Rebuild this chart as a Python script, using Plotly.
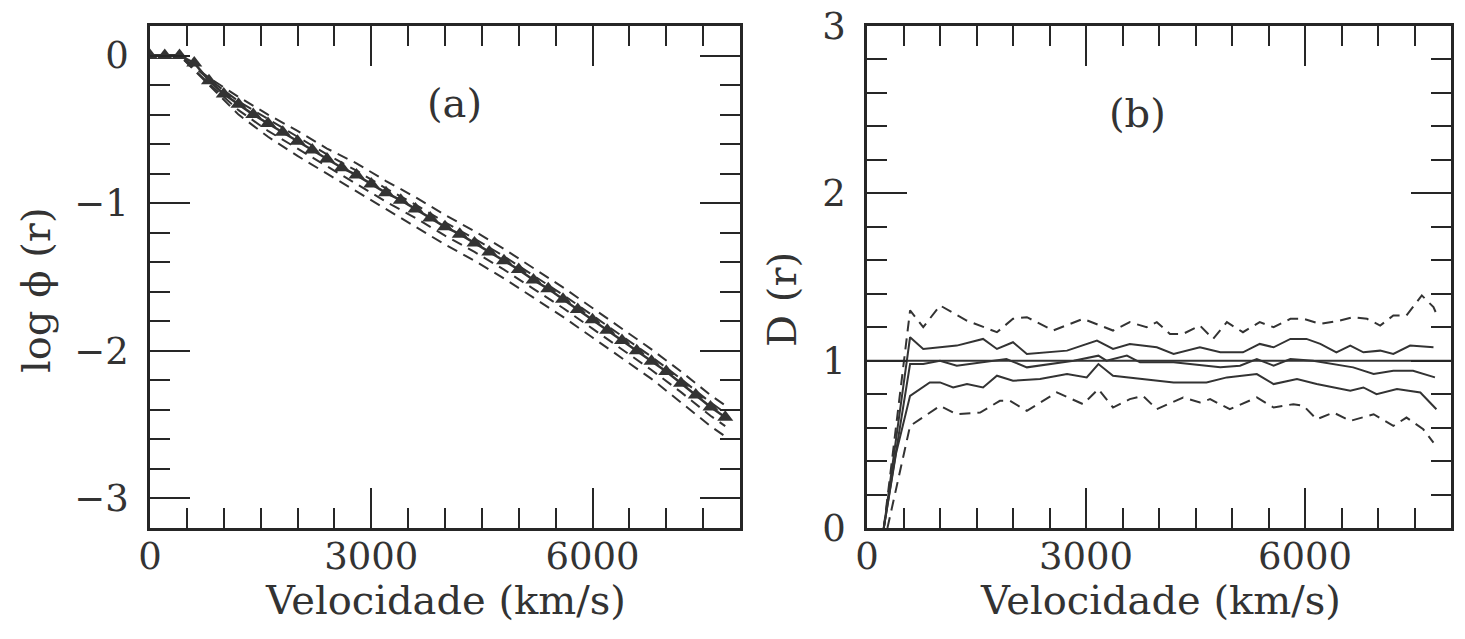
import plotly.graph_objects as go

# ---------------- Panel (a) data ----------------
v_a = [0, 200, 400, 600, 800, 1000, 1200, 1400, 1600, 1800, 2000, 2200, 2400, 2600, 2800,
       3000, 3200, 3400, 3600, 3800, 4000, 4200, 4400, 4600, 4800, 5000, 5200, 5400,
       5600, 5800, 6000, 6200, 6400, 6600, 6800, 7000, 7200, 7400, 7600, 7800]
logphi_obs = [0, 0, 0, -0.05, -0.17, -0.26, -0.33, -0.40, -0.46, -0.52, -0.58, -0.64, -0.70,
              -0.76, -0.81, -0.87, -0.93, -0.98, -1.04, -1.10, -1.16, -1.21, -1.27, -1.33,
              -1.39, -1.45, -1.52, -1.58, -1.65, -1.72, -1.79, -1.86, -1.93, -2.00, -2.07,
              -2.14, -2.22, -2.30, -2.38, -2.45]

v_band = [0, 400, 800, 1200, 1600, 2000, 2400, 2800, 3200, 3600, 4000, 4400, 4800, 5200,
          5600, 6000, 6400, 6800, 7200, 7600, 7800]
band_upper_outer = [0, 0, -0.15, -0.28, -0.40, -0.51, -0.63, -0.73, -0.85, -0.96, -1.08,
                    -1.19, -1.31, -1.44, -1.57, -1.71, -1.85, -1.99, -2.14, -2.30, -2.37]
band_upper_inner = [0, 0, -0.16, -0.31, -0.43, -0.55, -0.67, -0.78, -0.90, -1.01, -1.13,
                    -1.24, -1.36, -1.49, -1.62, -1.76, -1.90, -2.04, -2.19, -2.35, -2.42]
band_lower_inner = [0, 0, -0.19, -0.37, -0.51, -0.63, -0.75, -0.87, -0.99, -1.10, -1.22,
                    -1.33, -1.45, -1.58, -1.71, -1.85, -1.99, -2.13, -2.28, -2.44, -2.51]
band_lower_outer = [0, 0, -0.20, -0.40, -0.55, -0.68, -0.80, -0.92, -1.04, -1.16, -1.28,
                    -1.39, -1.51, -1.64, -1.77, -1.91, -2.05, -2.19, -2.35, -2.51, -2.58]

# ---------------- Panel (b) data ----------------
ref_x = [0, 8000]
ref_y = [1, 1]

ud_x = [230, 590, 770, 1000, 1365, 1780, 2000, 2190, 2550, 2960, 3370, 3600, 3830, 3970,
        4150, 4330, 4560, 4740, 4930, 5150, 5380, 5570, 5800, 5980, 6210, 6480, 6660, 6850,
        7030, 7210, 7390, 7600, 7760, 7800]
ud_y = [0, 1.30, 1.20, 1.33, 1.24, 1.17, 1.25, 1.26, 1.18, 1.25, 1.18, 1.23, 1.20, 1.23,
        1.16, 1.16, 1.21, 1.13, 1.23, 1.17, 1.23, 1.20, 1.25, 1.25, 1.22, 1.24, 1.26, 1.25,
        1.21, 1.27, 1.27, 1.39, 1.32, 1.28]

us_x = [230, 590, 770, 1230, 1590, 1780, 2000, 2190, 2740, 3150, 3370, 3600, 3970, 4200,
        4560, 4840, 5150, 5380, 5570, 5800, 6020, 6210, 6430, 6620, 6800, 7030, 7210, 7440, 7760]
us_y = [0, 1.14, 1.07, 1.09, 1.13, 1.07, 1.11, 1.04, 1.06, 1.12, 1.07, 1.10, 1.08, 1.04,
        1.08, 1.05, 1.05, 1.10, 1.08, 1.13, 1.13, 1.10, 1.05, 1.09, 1.05, 1.06, 1.04, 1.09, 1.08]

ms_x = [230, 590, 770, 1000, 1230, 1550, 1910, 2190, 2550, 2830, 3170, 3280, 3560, 3740,
        4200, 4650, 4840, 5110, 5340, 5570, 5800, 6110, 6660, 6940, 7210, 7480, 7780]
ms_y = [0, 0.98, 0.98, 1.00, 0.97, 0.99, 1.01, 0.96, 0.98, 1.00, 1.03, 1.00, 1.03, 0.99,
        0.99, 0.97, 0.96, 0.97, 1.01, 0.97, 1.01, 1.00, 0.96, 0.92, 0.94, 0.94, 0.90]

ls_x = [230, 400, 590, 860, 1000, 1180, 1370, 1590, 1780, 2000, 2370, 2740, 3010, 3170,
        3370, 3600, 4010, 4200, 4650, 4930, 5340, 5570, 5890, 6160, 6620, 6800, 6980, 7260,
        7580, 7800]
ls_y = [0, 0.45, 0.79, 0.87, 0.87, 0.84, 0.86, 0.84, 0.91, 0.88, 0.89, 0.92, 0.90, 0.98,
        0.91, 0.90, 0.88, 0.87, 0.87, 0.90, 0.92, 0.86, 0.89, 0.86, 0.82, 0.84, 0.80, 0.83,
        0.81, 0.71]

ld_x = [280, 590, 1000, 1230, 1550, 1820, 1960, 2190, 2600, 2960, 3170, 3370, 3600, 3780,
        3970, 4330, 4560, 4700, 4970, 5340, 5570, 5840, 5980, 6160, 6390, 6620, 6940, 7210,
        7390, 7620, 7760]
ld_y = [0, 0.61, 0.73, 0.68, 0.69, 0.76, 0.76, 0.70, 0.81, 0.74, 0.83, 0.72, 0.77, 0.79,
        0.71, 0.78, 0.75, 0.77, 0.71, 0.78, 0.72, 0.74, 0.73, 0.65, 0.69, 0.64, 0.68, 0.61,
        0.66, 0.59, 0.51]

x_ticks = [0, 3000, 6000]
y_ticks_a = [0, -1, -2, -3]
y_ticks_b = [0, 1, 2, 3]

INK = "#333333"
AXC = "#262626"
FONT = "DejaVu Serif"
DASH = "11px,7px"
TICK_SIZE = 37
TITLE_SIZE = 40

fig = go.Figure()

# Panel (a)
for yy in [band_upper_outer, band_upper_inner, band_lower_inner, band_lower_outer]:
    fig.add_trace(go.Scatter(x=v_band, y=yy, mode="lines", xaxis="x", yaxis="y",
                             line=dict(color=INK, width=2, dash=DASH), showlegend=False))
fig.add_trace(go.Scatter(x=v_a, y=logphi_obs, mode="lines+markers", xaxis="x", yaxis="y",
                         line=dict(color=INK, width=2.5),
                         marker=dict(symbol="triangle-up", size=14, color=INK),
                         showlegend=False))

# Panel (b)
fig.add_trace(go.Scatter(x=ref_x, y=ref_y, mode="lines", xaxis="x2", yaxis="y2",
                         line=dict(color=INK, width=2), showlegend=False))
for xx, yy, dash in [(ud_x, ud_y, DASH), (us_x, us_y, "solid"), (ms_x, ms_y, "solid"),
                     (ls_x, ls_y, "solid"), (ld_x, ld_y, DASH)]:
    fig.add_trace(go.Scatter(x=xx, y=yy, mode="lines", xaxis="x2", yaxis="y2",
                             line=dict(color=INK, width=2, dash=dash), showlegend=False))

tickfont = dict(family=FONT, size=TICK_SIZE, color=INK)
titlefont = dict(family=FONT, size=TITLE_SIZE, color=INK)

def xax(domain, anchor):
    return dict(domain=domain, anchor=anchor, range=[0, 8000], tickvals=x_ticks,
                ticktext=[str(t) for t in x_ticks], ticks="inside", ticklen=40, tickwidth=2,
                tickcolor=AXC, showline=True, linewidth=2.5, linecolor=AXC, mirror="ticks",
                showgrid=False, zeroline=False, tickfont=tickfont, automargin=False,
                ticklabelstandoff=-6,
                minor=dict(dtick=500, tick0=0, ticks="inside", ticklen=20, tickwidth=2,
                           tickcolor=AXC, showgrid=False))

def yax(domain, anchor, rng, ticks):
    return dict(domain=domain, anchor=anchor, range=rng, tickvals=ticks,
                ticktext=[str(t).replace("-", "\u2212") for t in ticks],
                ticks="inside", ticklen=40, tickwidth=2, tickcolor=AXC,
                showline=True, linewidth=2.5, linecolor=AXC, mirror="ticks",
                showgrid=False, zeroline=False, tickfont=tickfont, ticklabelstandoff=11,
                automargin=False,
                minor=dict(dtick=0.2, tick0=0, ticks="inside", ticklen=20, tickwidth=2,
                           tickcolor=AXC, showgrid=False))

W, H = 1465, 639
ydom = [111 / H, 613 / H]
ann_common = dict(xref="paper", yref="paper", showarrow=False, xanchor="center",
                  yanchor="middle", font=titlefont)
fig.update_layout(
    width=W, height=H,
    margin=dict(l=0, r=0, t=0, b=0),
    paper_bgcolor="white", plot_bgcolor="white",
    xaxis=xax([150 / W, 740 / W], "y"),
    yaxis=yax(ydom, "x", [-3.2, 0.2], y_ticks_a),
    xaxis2=xax([867 / W, 1451 / W], "y2"),
    yaxis2=yax(ydom, "x2", [0, 3], y_ticks_b),
    annotations=[
        dict(text="(a)", x=4135, y=-0.32, xref="x", yref="y", showarrow=False,
             font=dict(family=FONT, size=40, color=INK)),
        dict(text="(b)", x=3700, y=2.48, xref="x2", yref="y2", showarrow=False,
             font=dict(family=FONT, size=40, color=INK)),
        dict(text="Velocidade (km/s)", x=445 / W, y=1 - 600 / H, **ann_common),
        dict(text="Velocidade (km/s)", x=1160 / W, y=1 - 600 / H, **ann_common),
        dict(text="log \u03d5 (r)", x=36 / W, y=1 - 290 / H, textangle=-90, **ann_common),
        dict(text="D (r)", x=782 / W, y=1 - 300 / H, textangle=-90, **ann_common),
    ],
)

fig.write_html("out.html")
